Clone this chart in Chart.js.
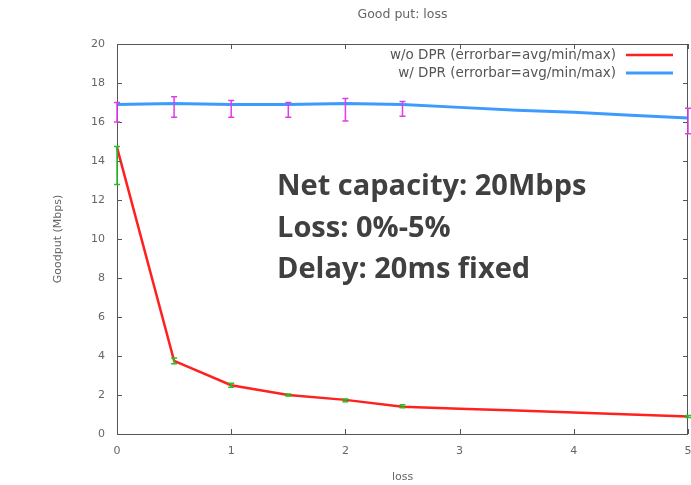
<!DOCTYPE html>
<html>
<head>
<meta charset="utf-8">
<script src="https://cdn.jsdelivr.net/npm/chart.js@4"></script>
<style>
  body { margin: 0; background: #fff; overflow: hidden; }
  #wrap { position: relative; width: 691px; height: 485px; }
  canvas { display: block; }
  #note {
    position: absolute; left: 277px; top: 163px;
    font-family: "Open Sans", sans-serif; font-weight: bold;
    font-size: 29px; line-height: 41.5px; color: #404040;
  }
</style>
</head>
<body>
<div id="wrap">
  <canvas id="goodput" width="691" height="485"></canvas>
  <div id="note">Net capacity: 20Mbps<br>Loss: 0%-5%<br>Delay: 20ms fixed</div>
</div>
<script>
const lossX = [0, 0.5, 1, 1.5, 2, 2.5, 3, 3.5, 4, 4.5, 5];
const withoutDpr = [14.7, 3.75, 2.5, 2.0, 1.75, 1.4, 1.3, 1.2, 1.1, 1.0, 0.9];
const withDpr = [16.9, 16.95, 16.9, 16.9, 16.95, 16.9, 16.75, 16.6, 16.5, 16.35, 16.2];

// error bars (avg/min/max) only measured at these loss values
const errX = [0, 0.5, 1, 1.5, 2, 2.5, 5];
const withoutMin = [12.8, 3.6, 2.4, 1.95, 1.65, 1.35, 0.85];
const withoutMax = [14.75, 3.9, 2.6, 2.05, 1.8, 1.5, 0.95];
const withMin = [16.0, 16.25, 16.25, 16.25, 16.05, 16.3, 15.4];
const withMax = [17.0, 17.3, 17.1, 17.0, 17.2, 17.05, 16.7];

const xTicks = [0, 1, 2, 3, 4, 5];
const yTicks = [0, 2, 4, 6, 8, 10, 12, 14, 16, 18, 20];
const chartTitle = 'Good put: loss';

const labelFont = { family: 'DejaVu Sans', size: 11 };
const gray = '#666';

const frame = {
  id: 'frame',
  afterDatasetsDraw(chart) {
    const { ctx, chartArea: a, scales: { x, y } } = chart;
    ctx.save();
    // title, centred over the plot box
    ctx.font = '12.5px "DejaVu Sans"';
    ctx.fillStyle = '#666';
    ctx.textAlign = 'center';
    ctx.textBaseline = 'middle';
    ctx.fillText(chartTitle, (a.left + a.right) / 2, 15);

    // box + inward ticks
    ctx.strokeStyle = '#555';
    ctx.lineWidth = 1;
    ctx.strokeRect(a.left + 0.5, a.top + 0.5, a.right - a.left - 1, a.bottom - a.top);
    ctx.beginPath();
    xTicks.forEach(v => {
      const px = Math.round(x.getPixelForValue(v)) + 0.5;
      ctx.moveTo(px, a.bottom); ctx.lineTo(px, a.bottom - 5);
      ctx.moveTo(px, a.top); ctx.lineTo(px, a.top + 5);
    });
    yTicks.forEach(v => {
      const py = Math.round(y.getPixelForValue(v)) + 0.5;
      ctx.moveTo(a.left, py); ctx.lineTo(a.left + 5, py);
      ctx.moveTo(a.right, py); ctx.lineTo(a.right - 5, py);
    });
    ctx.stroke();

    // error bars
    const bars = [
      { mins: withoutMin, maxs: withoutMax, color: '#22c322' },
      { mins: withMin, maxs: withMax, color: '#e03ce8' }
    ];
    bars.forEach(b => {
      ctx.strokeStyle = b.color;
      ctx.lineWidth = 1.5;
      ctx.beginPath();
      errX.forEach((v, i) => {
        const px = x.getPixelForValue(v);
        const y1 = y.getPixelForValue(b.mins[i]);
        const y2 = y.getPixelForValue(b.maxs[i]);
        ctx.moveTo(px, y1); ctx.lineTo(px, y2);
        ctx.moveTo(px - 3, y1); ctx.lineTo(px + 3, y1);
        ctx.moveTo(px - 3, y2); ctx.lineTo(px + 3, y2);
      });
      ctx.stroke();
    });

    // legend: text then line sample
    ctx.font = '13.5px "DejaVu Sans"';
    ctx.textAlign = 'right';
    chart.data.datasets.forEach((ds, i) => {
      const ty = 55 + i * 18;
      ctx.fillStyle = '#555';
      ctx.fillText(ds.label, 616, ty);
      ctx.strokeStyle = ds.borderColor;
      ctx.lineWidth = ds.borderWidth;
      ctx.beginPath();
      ctx.moveTo(626, ty); ctx.lineTo(673, ty);
      ctx.stroke();
    });
    ctx.restore();
  }
};

new Chart(document.getElementById('goodput'), {
  type: 'line',
  data: {
    labels: lossX,
    datasets: [
      {
        label: 'w/o DPR (errorbar=avg/min/max)',
        data: lossX.map((v, i) => ({ x: v, y: withoutDpr[i] })),
        borderColor: '#ff2020',
        borderWidth: 2.5,
        pointRadius: 0,
        tension: 0,
        clip: 8
      },
      {
        label: 'w/ DPR (errorbar=avg/min/max)',
        data: lossX.map((v, i) => ({ x: v, y: withDpr[i] })),
        borderColor: '#3d9bff',
        borderWidth: 3,
        pointRadius: 0,
        tension: 0,
        clip: 8
      }
    ]
  },
  options: {
    responsive: false,
    animation: false,
    layout: { autoPadding: false, padding: { left: 0, right: 3, top: 44, bottom: 0 } },
    plugins: {
      legend: { display: false },
      tooltip: { enabled: false },
      title: { display: false }
    },
    scales: {
      x: {
        type: 'linear',
        min: 0, max: 5,
        afterFit: s => { s.height = 51; s.paddingLeft = 0; s.paddingRight = 0; },
        afterBuildTicks: s => { s.ticks = xTicks.map(v => ({ value: v })); },
        grid: { display: false, drawTicks: false },
        border: { display: false },
        ticks: { color: gray, font: labelFont, padding: 11, maxRotation: 0 },
        title: { display: true, text: 'loss', color: gray, font: labelFont, padding: { top: 0, bottom: 1 } }
      },
      y: {
        min: 0, max: 20,
        afterFit: s => { s.width = 117; s.paddingTop = 0; s.paddingBottom = 0; },
        afterBuildTicks: s => { s.ticks = yTicks.map(v => ({ value: v })); },
        grid: { display: false, drawTicks: false },
        border: { display: false },
        ticks: { color: gray, font: labelFont, padding: 12 },
        title: { display: true, text: 'Goodput (Mbps)', color: gray, font: labelFont, padding: { top: 52, bottom: 0 } }
      }
    }
  },
  plugins: [frame]
});
</script>
</body>
</html>
